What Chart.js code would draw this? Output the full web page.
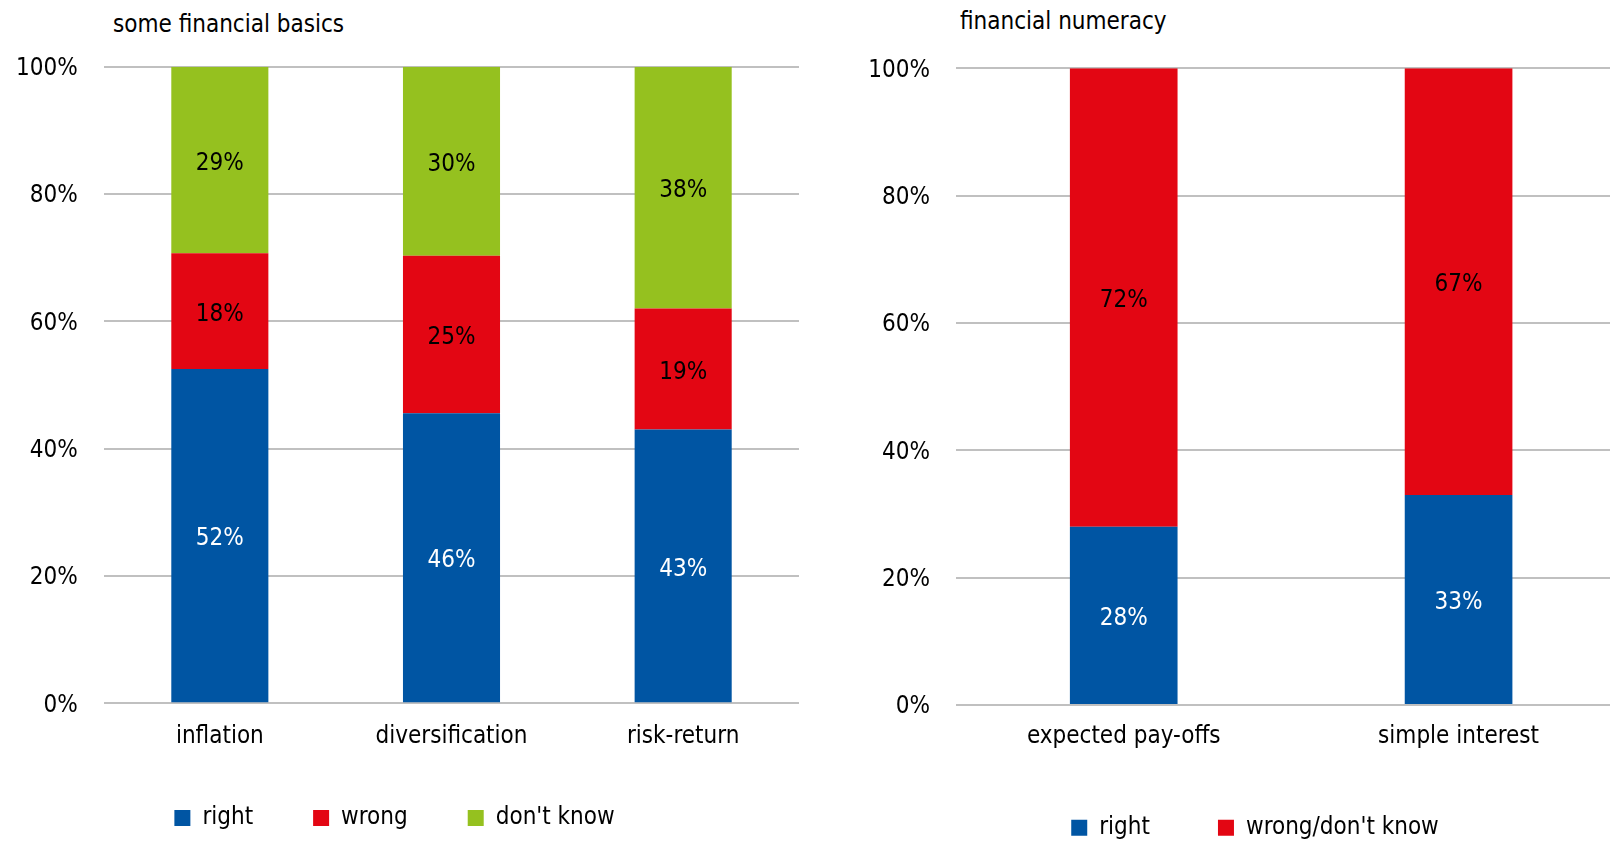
<!DOCTYPE html>
<html>
<head>
<meta charset="utf-8">
<script src="https://cdn.jsdelivr.net/npm/chart.js@4.4.1/dist/chart.umd.min.js"></script>
<style>
  html, body { margin: 0; padding: 0; background: #fff; overflow: hidden; width: 1610px; height: 842px; position: relative; }
  canvas { position: absolute; }
  .title { position: absolute; font: 24px/24px 'DejaVu Sans Condensed', 'DejaVu Sans', sans-serif; color: #000; white-space: nowrap; }
</style>
</head>
<body>
<div class="title" style="left:113px; top:12px">some financial basics</div>
<div class="title" style="left:960px; top:9px">financial numeracy</div>
<canvas id="basics" style="left:0; top:0" width="800" height="860"></canvas>
<canvas id="numeracy" style="left:860px; top:0" width="766" height="870"></canvas>
<script>
// Survey answers, in percent of respondents
const basicsCategories = ['inflation', 'diversification', 'risk-return'];
const basicsRight = [52, 46, 43];
const basicsWrong = [18, 25, 19];
const basicsDontKnow = [29, 30, 38];

const numeracyCategories = ['expected pay-offs', 'simple interest'];
const numeracyRight = [28, 33];
const numeracyWrongDontKnow = [72, 67];

const percentTicks = [0, 20, 40, 60, 80, 100];

const BLUE = '#0055a3';
const RED = '#e30613';
const GREEN = '#95c11f';
const GRID = '#c0c0c0';
const FAMILY = "'DejaVu Sans Condensed', 'DejaVu Sans', sans-serif";
const FONT_SIZE = 24;

// Each column is drawn as a 100% stack: values are scaled by their column total
function shares(series, allSeries) {
  return series.map((v, i) => {
    const total = allSeries.reduce((s, arr) => s + arr[i], 0);
    return v / total * 100;
  });
}

// Writes each segment's value in the middle of its bar piece
const segmentLabels = {
  id: 'segmentLabels',
  afterDatasetsDraw(chart) {
    const ctx = chart.ctx;
    ctx.save();
    ctx.font = FONT_SIZE + 'px ' + FAMILY;
    ctx.textAlign = 'center';
    ctx.textBaseline = 'alphabetic';
    chart.data.datasets.forEach((ds, di) => {
      const meta = chart.getDatasetMeta(di);
      meta.data.forEach((bar, i) => {
        ctx.fillStyle = ds.labelColor;
        // digits are ~0.73em tall, so drop the baseline by about half of that
        ctx.fillText(ds.values[i] + '%', bar.x, (bar.y + bar.base) / 2 + FONT_SIZE * 0.4);
      });
    });
    ctx.restore();
  }
};

// Moves the legend block after layout, so the axis labels keep their full box
const legendShift = {
  id: 'legendShift',
  afterLayout(chart, args, opts) {
    const lg = chart.legend;
    if (!lg) return;
    lg.left += opts.dx; lg.right += opts.dx;
    lg.top += opts.dy; lg.bottom += opts.dy;
  }
};

function makeDataset(label, values, allSeries, color, labelColor, barPct) {
  return {
    label,
    values,
    data: shares(values, allSeries),
    backgroundColor: color,
    borderWidth: 0,
    labelColor,
    categoryPercentage: 1,
    barPercentage: barPct
  };
}

function buildOptions(cfg) {
  return {
    responsive: false,
    animation: false,
    devicePixelRatio: 1,
    layout: { padding: { top: cfg.top, right: cfg.right, bottom: cfg.bottom, left: 0 } },
    plugins: {
      title: { display: false },
      tooltip: { enabled: false },
      legendShift: { dx: cfg.legendDx, dy: cfg.legendDy },
      legend: {
        position: 'bottom',
        labels: {
          boxWidth: 16,
          boxHeight: 16,
          padding: cfg.legendPadding,
          color: '#000',
          font: { family: FAMILY, size: FONT_SIZE }
        }
      }
    },
    scales: {
      x: {
        stacked: true,
        grid: { display: false },
        border: { display: false },
        ticks: { color: '#000', padding: cfg.xPad, font: { family: FAMILY, size: FONT_SIZE } },
        afterFit(scale) { scale.height = cfg.xHeight; }
      },
      y: {
        stacked: true,
        min: 0,
        max: 100,
        afterBuildTicks(scale) { scale.ticks = percentTicks.map(v => ({ value: v })); },
        grid: { color: GRID, lineWidth: 2, drawTicks: false },
        border: { display: false },
        ticks: {
          color: '#000',
          padding: cfg.yPad,
          labelOffset: 2,
          font: { family: FAMILY, size: FONT_SIZE },
          callback: v => v + '%'
        },
        afterFit(scale) { scale.width = cfg.yWidth; }
      }
    }
  };
}

const basicsAll = [basicsRight, basicsWrong, basicsDontKnow];
new Chart(document.getElementById('basics'), {
  type: 'bar',
  data: {
    labels: basicsCategories,
    datasets: [
      makeDataset('right', basicsRight, basicsAll, BLUE, '#fff', 0.419),
      makeDataset('wrong', basicsWrong, basicsAll, RED, '#000', 0.419),
      makeDataset("don't know", basicsDontKnow, basicsAll, GREEN, '#000', 0.419)
    ]
  },
  options: buildOptions({
    top: 66.7, right: 1, bottom: 2.7,
    legendPadding: 60, legendDx: -5, legendDy: -17.3,
    xPad: 11, xHeight: 60, yPad: 26.3, yWidth: 104
  }),
  plugins: [segmentLabels, legendShift]
});

const numeracyAll = [numeracyRight, numeracyWrongDontKnow];
new Chart(document.getElementById('numeracy'), {
  type: 'bar',
  data: {
    labels: numeracyCategories,
    datasets: [
      makeDataset('right', numeracyRight, numeracyAll, BLUE, '#fff', 0.3215),
      makeDataset("wrong/don't know", numeracyWrongDontKnow, numeracyAll, RED, '#000', 0.3215)
    ]
  },
  options: buildOptions({
    top: 68.3, right: 0, bottom: 3,
    legendPadding: 68, legendDx: 12, legendDy: -17.3,
    xPad: 9, xHeight: 60, yPad: 26.3, yWidth: 96.3
  }),
  plugins: [segmentLabels, legendShift]
});
</script>
</body>
</html>
